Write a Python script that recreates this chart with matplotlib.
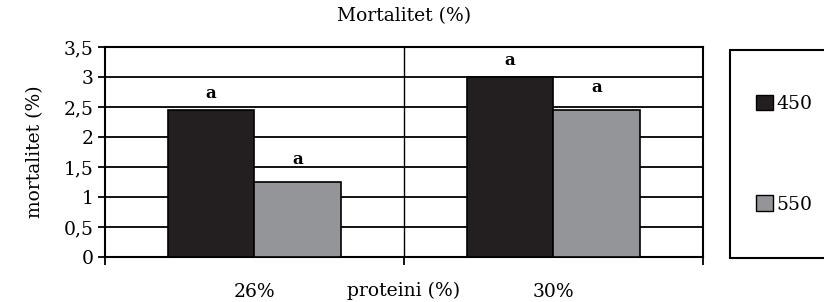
import numpy as np
import matplotlib.pyplot as plt
from matplotlib.patches import Rectangle, Patch

categories = ["26%", "30%"]
series_names = ["450", "550"]
values_450 = [2.45, 3.0]
values_550 = [1.25, 2.45]
letters_450 = ["a", "a"]
letters_550 = ["a", "a"]

plt.rcParams['font.family'] = ['DejaVu Serif']

fig = plt.figure(figsize=(8.24, 3.02), dpi=100)
ax = fig.add_axes([0.1274, 0.149, 0.7257, 0.695])

x = np.arange(len(categories))
w = 0.29
dark = "#231f20"
grey = "#939598"

b1 = ax.bar(x - w / 2, values_450, w, color=dark, edgecolor="black", linewidth=1.2, zorder=3)
b2 = ax.bar(x + w / 2, values_550, w, color=grey, edgecolor="black", linewidth=1.2, zorder=3)

# lettres de signification au-dessus des barres
for xi, v, t in zip(x - w / 2, values_450, letters_450):
    ax.annotate(t, (xi, v), xytext=(0, 6), textcoords="offset points",
                ha="center", va="bottom", fontsize=12, fontweight="bold")
for xi, v, t in zip(x + w / 2, values_550, letters_550):
    ax.annotate(t, (xi, v), xytext=(0, 10), textcoords="offset points",
                ha="center", va="bottom", fontsize=12, fontweight="bold")

ax.set_xlim(-0.5, 1.5)
ax.set_ylim(0, 3.5)
ax.set_yticks(np.arange(0, 3.51, 0.5))
ax.set_yticklabels([f"{v:g}".replace(".", ",") for v in np.arange(0, 3.51, 0.5)])
ax.yaxis.grid(True, color="black", linewidth=1.3, zorder=0)

ax.set_xticks(x)
ax.set_xticklabels(categories)
ax.tick_params(axis="x", which="major", length=0, pad=19)
ax.set_xticks([-0.5, 0.5, 1.5], minor=True)
ax.tick_params(axis="x", which="minor", length=6, width=1.3, direction="out")
ax.axvline(0.5, color="black", linewidth=1.0, zorder=1)
ax.tick_params(axis="y", length=5, width=1.3, direction="out", pad=3)

for lab in ax.get_xticklabels() + ax.get_yticklabels():
    lab.set_fontsize(13.5)

for s in ax.spines.values():
    s.set_linewidth(1.5)
    s.set_color("black")

ax.set_title("Mortalitet (%)", fontsize=13.5, pad=19)
ax.set_ylabel("mortalitet (%)", fontsize=13.5, labelpad=14)
ax.set_xlabel("proteini (%)", fontsize=13.5)
ax.xaxis.set_label_coords(0.5, -0.12)

# cadre de la légende
fig.patches.append(Rectangle((730 / 824, 44 / 302), 0.2, 208 / 302, transform=fig.transFigure,
                             facecolor="white", edgecolor="black", linewidth=1.5))
handles = [Patch(facecolor=dark, edgecolor="black"), Patch(facecolor=grey, edgecolor="black")]
fig.legend(handles, series_names, loc="center left", bbox_to_anchor=(739 / 824, 148 / 302),
           frameon=False, handlelength=0.9, handleheight=0.9,
           handletextpad=0.2, labelspacing=4.4, prop={"size": 13.5})

fig.savefig("out.png", dpi=100)
